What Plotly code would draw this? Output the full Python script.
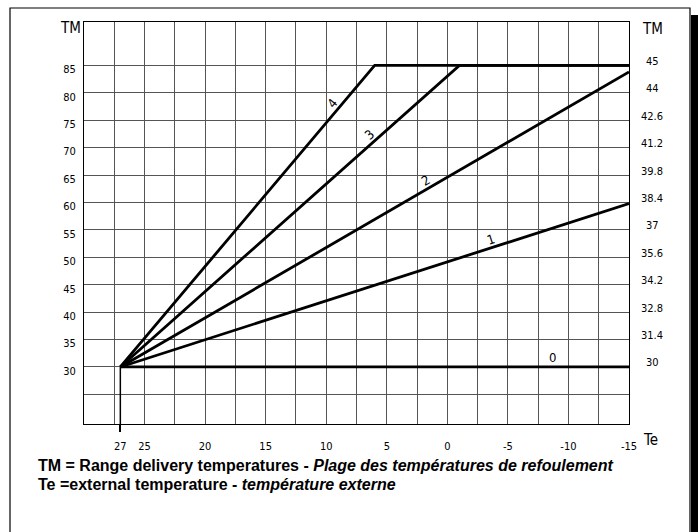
import plotly.graph_objects as go

# outside temperature Te (x) and delivery temperature TM (y)
te_ticks = [27, 25, 20, 15, 10, 5, 0, -5, -10, -15]
tm_ticks = [25, 30, 35, 40, 45, 50, 55, 60, 65, 70, 75, 80, 85]
tm_labels = ['', '30', '35', '40', '45', '50', '55', '60', '65', '70', '75', '80', '85']
tm_right = ['30', '31.4', '32.8', '34.2', '35.6', '37', '38.4', '39.8', '41.2', '42.6', '44', '45']

curve_te = {
    '0': [27, -15],
    '1': [27, -15],
    '2': [27, -15],
    '3': [27, -1, -15],
    '4': [27, 6, -15],
}
curve_tm = {
    '0': [30, 30],
    '1': [30, 59.8],
    '2': [30, 83.8],
    '3': [30, 85, 85],
    '4': [30, 85, 85],
}

label_text = ['0', '1', '2', '3', '4']
label_te = [-8.7, -3.6, 1.8, 6.4, 9.5]
label_tm = [31.7, 53.3, 64.0, 72.3, 78.0]
label_angle = [0, -18, -30, -42, -50]

W, H = 698, 532
L, R, T, B = 84, 69, 22, 108
PW, PH = W - L - R, H - T - B


def px(x):
    return (x - L) / PW


def py(y):
    return (H - B - y) / PH


tick_font = dict(family='Liberation Sans Narrow, DejaVu Sans Condensed, sans-serif', size=11, color='black')
big_font = dict(family=tick_font['family'], size=15, color='black')
grid_col = '#555555'

fig = go.Figure()

for k in curve_te:
    fig.add_trace(go.Scatter(x=curve_te[k], y=curve_tm[k], mode='lines',
                             line=dict(color='black', width=2.8), hoverinfo='skip'))

# reference line at Te = 27 down to the axis
fig.add_trace(go.Scatter(x=[te_ticks[0], te_ticks[0]], y=[30, 10], mode='lines',
                         line=dict(color='black', width=1.5), hoverinfo='skip'))
fig.add_trace(go.Scatter(x=[te_ticks[0]], y=[30], xaxis='x2', mode='markers',
                         marker=dict(size=1, color='rgba(0,0,0,0)'), hoverinfo='skip'))

for t, x, y, a in zip(label_text, label_te, label_tm, label_angle):
    fig.add_annotation(x=x, y=y, text=t, showarrow=False, textangle=a,
                       font=dict(family=tick_font['family'], size=13, color='black'))

for t, v in zip(tm_right, tm_ticks[1:]):
    fig.add_annotation(xref='paper', yref='y', x=1, y=v, xshift=23, yshift=4,
                       text=t, showarrow=False, xanchor='center', font=tick_font)

for t, x, y in [('TM', 70, 28), ('TM', 652, 29), ('Te', 651, 440)]:
    fig.add_annotation(xref='paper', yref='paper', x=px(x), y=py(y), text=t, showarrow=False,
                       xanchor='center', yanchor='middle', font=big_font)

cap_font = dict(family='Arial, Liberation Sans, Helvetica, sans-serif', size=16, color='black', weight=700)
fig.add_annotation(xref='paper', yref='paper', x=px(36), y=py(465), xanchor='left', yanchor='middle',
                   text='<b>TM = Range delivery temperatures - <i>Plage des températures de refoulement</i></b>',
                   showarrow=False, font=cap_font)
fig.add_annotation(xref='paper', yref='paper', x=px(36), y=py(484), xanchor='left', yanchor='middle',
                   text='<b>Te =external temperature - <i>température externe</i></b>',
                   showarrow=False, font=cap_font)

# page frame and shadow
fig.add_shape(type='rect', xref='paper', yref='paper', x0=px(10), x1=px(690), y0=py(8), y1=py(545),
              line=dict(color='black', width=1.2), fillcolor='rgba(0,0,0,0)', layer='below')
fig.add_shape(type='rect', xref='paper', yref='paper', x0=px(691), x1=px(702), y0=py(15), y1=py(545),
              line=dict(width=0), fillcolor='black')

fig.update_layout(
    width=W, height=H,
    margin=dict(l=L, r=R, t=T, b=B),
    paper_bgcolor='white', plot_bgcolor='white',
    showlegend=False,
    xaxis=dict(range=[30, -15], tickmode='array', tickvals=te_ticks,
               ticktext=[str(v) for v in te_ticks], ticks='', ticklabelstandoff=12,
               tickfont=tick_font, showgrid=False, zeroline=False,
               minor=dict(dtick=2.5, tick0=0, showgrid=True, gridcolor=grid_col, gridwidth=1, ticks=''),
               showline=True, mirror=True, linecolor='black', linewidth=1),
    xaxis2=dict(range=[30, -15], overlaying='x', anchor='y', side='bottom', tickmode='array',
                tickvals=[te_ticks[0]], ticks='outside', ticklen=7, tickwidth=1.5, tickcolor='black',
                showticklabels=False, showgrid=False, zeroline=False, showline=False),
    yaxis=dict(range=[19.6, 92.9], tickmode='array', tickvals=tm_ticks, ticktext=tm_labels,
               ticks='', ticklabelstandoff=5, ticklabelshift=4, tickfont=tick_font,
               showgrid=True, gridcolor=grid_col, gridwidth=1, zeroline=False,
               showline=True, mirror=True, linecolor='black', linewidth=1),
)

# drop the default page margin so the figure sits at the window origin
fig.write_html("out.html", config={'displayModeBar': False},
               post_script="document.body.style.margin='0';")
